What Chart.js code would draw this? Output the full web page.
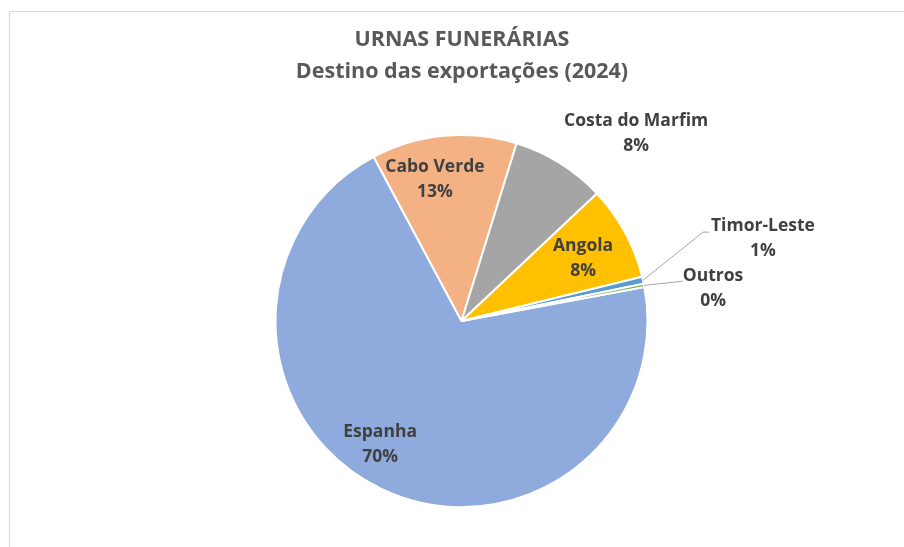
<!DOCTYPE html>
<html>
<head>
<meta charset="utf-8">
<script src="https://cdn.jsdelivr.net/npm/chart.js@4.4.1/dist/chart.umd.min.js"></script>
<style>
  html, body { margin: 0; padding: 0; background: #fff; }
  #wrap { position: relative; width: 904px; height: 547px; }
</style>
</head>
<body>
<div id="wrap"><canvas id="pieChart" width="904" height="547"></canvas></div>
<script>
// Chart data
const titleLines = ['URNAS FUNERÁRIAS', 'Destino das exportações (2024)'];
const countries = ['Espanha', 'Cabo Verde', 'Costa do Marfim', 'Angola', 'Timor-Leste', 'Outros'];
const shares = [70.1, 12.6, 8.2, 8.2, 0.6, 0.3];
const percentLabels = ['70%', '13%', '8%', '8%', '1%', '0%'];

const sliceColors = ['#8faadc', '#f4b183', '#a5a5a5', '#ffc000', '#5b9bd5', '#70ad47'];

// label placement: [angle in degrees from top, distance as fraction of radius]
const labelPolar = [[213.5, 0.793], [349.4, 0.777], [42.9, 1.379], [62.6, 0.736], [74.6, 1.681], [82.5, 1.364]];
// leader line elbows (same polar form), null when no leader line
const leaderElbow = [null, null, null, null, [69.8, 1.384], [79.8, 1.21]];

const LABEL_FONT = 'bold 17.5px "Open Sans"';
const TITLE_FONT = 'bold 21.5px "Open Sans"';

function polar(cx, cy, r, deg) {
  const a = deg * Math.PI / 180;
  return { x: cx + r * Math.sin(a), y: cy - r * Math.cos(a) };
}

const pieLabels = {
  id: 'pieLabels',
  beforeDraw(chart) {
    const ctx = chart.ctx;
    ctx.save();
    // frame lines (left + top)
    ctx.strokeStyle = '#d9d9d9';
    ctx.lineWidth = 1;
    ctx.beginPath();
    ctx.moveTo(9.5, chart.height);
    ctx.lineTo(9.5, 11.5);
    ctx.lineTo(chart.width, 11.5);
    ctx.stroke();
    ctx.restore();
  },
  afterDatasetsDraw(chart) {
    const ctx = chart.ctx;
    const arcs = chart.getDatasetMeta(0).data;
    ctx.save();

    // title
    ctx.fillStyle = '#595959';
    ctx.font = TITLE_FONT;
    ctx.textAlign = 'center';
    ctx.textBaseline = 'middle';
    ctx.fillText(titleLines[0], 462, 40);
    ctx.fillText(titleLines[1], 462, 72);

    arcs.forEach((arc, i) => {
      const { x, y, outerRadius, startAngle, endAngle } = arc.getProps(['x', 'y', 'outerRadius', 'startAngle', 'endAngle'], true);
      const pos = polar(x, y, outerRadius * labelPolar[i][1], labelPolar[i][0]);

      if (leaderElbow[i]) {
        const mid = (startAngle + endAngle) / 2;
        const sx = x + outerRadius * Math.cos(mid);
        const sy = y + outerRadius * Math.sin(mid);
        const elbow = polar(x, y, outerRadius * leaderElbow[i][1], leaderElbow[i][0]);
        ctx.font = LABEL_FONT;
        const left = pos.x - ctx.measureText(countries[i]).width / 2 - 2;
        ctx.strokeStyle = '#a6a6a6';
        ctx.lineWidth = 1;
        ctx.beginPath();
        ctx.moveTo(sx, sy);
        ctx.lineTo(elbow.x, elbow.y);
        if (left > elbow.x) ctx.lineTo(left, elbow.y);
        ctx.stroke();
      }

      ctx.fillStyle = '#404040';
      ctx.font = LABEL_FONT;
      ctx.textAlign = 'center';
      ctx.textBaseline = 'middle';
      ctx.fillText(countries[i], pos.x, pos.y - 12);
      ctx.fillText(percentLabels[i], pos.x, pos.y + 13);
    });
    ctx.restore();
  }
};

new Chart(document.getElementById('pieChart').getContext('2d'), {
  type: 'pie',
  data: {
    labels: countries,
    datasets: [{
      data: shares,
      backgroundColor: sliceColors,
      borderColor: '#ffffff',
      borderWidth: 2
    }]
  },
  options: {
    responsive: false,
    animation: false,
    rotation: 79.5,
    radius: 186,
    layout: { padding: { top: 135, bottom: 40, left: 19, right: 0 } },
    plugins: {
      legend: { display: false },
      tooltip: { enabled: false },
      title: { display: false }
    }
  },
  plugins: [pieLabels]
});
</script>
</body>
</html>
